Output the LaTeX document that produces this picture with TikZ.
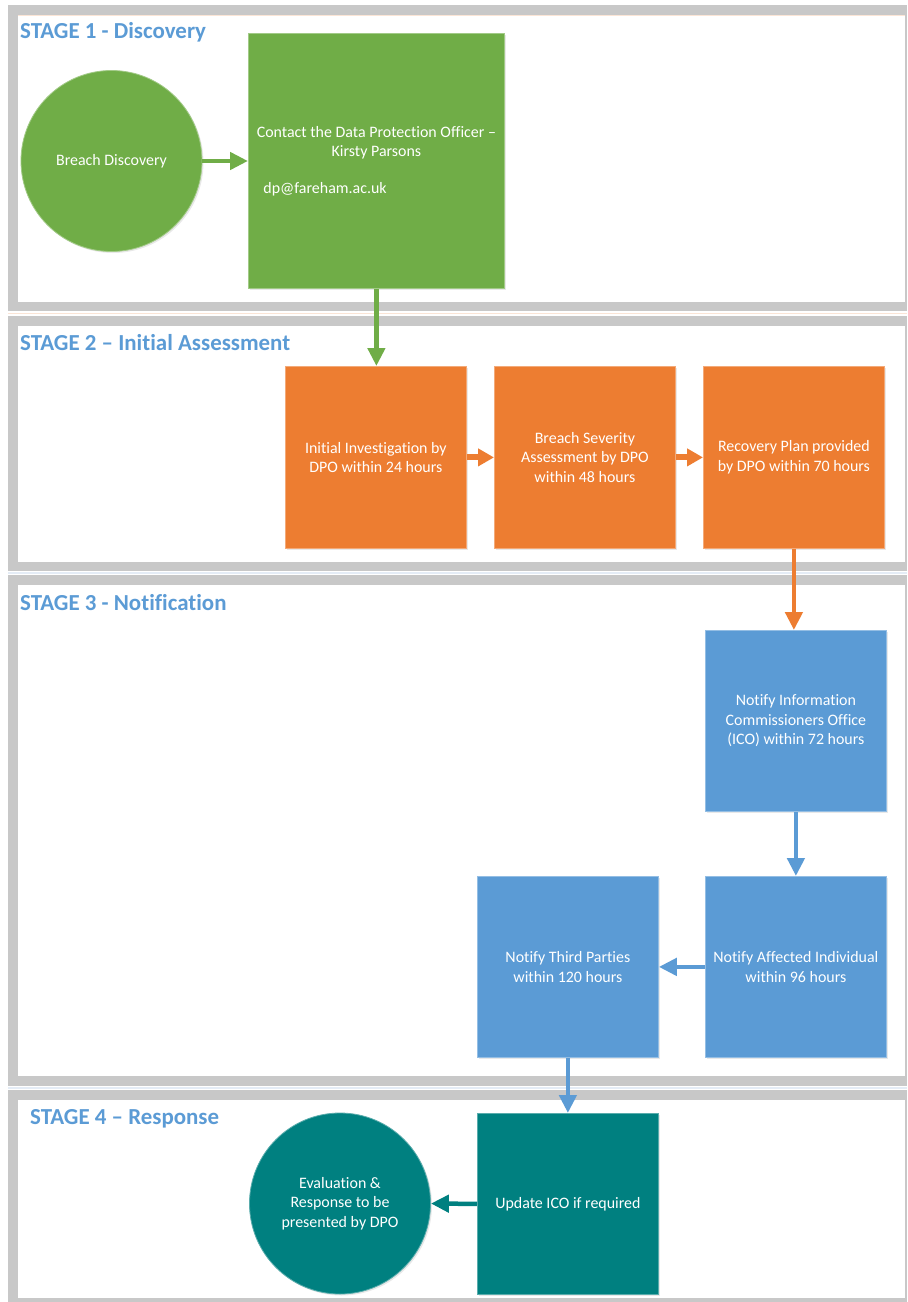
\documentclass[tikz,border=0pt]{standalone}
\usepackage{fontspec}
\setmainfont{Carlito}[Ligatures=NoCommon]
\usetikzlibrary{arrows.meta,shadows}
\definecolor{cGreen}{HTML}{70AD47}
\definecolor{cOrange}{HTML}{ED7D31}
\definecolor{cBlue}{HTML}{5B9BD5}
\definecolor{cTeal}{HTML}{008080}
\definecolor{cFrame}{HTML}{C8C8C8}
\definecolor{cTitle}{HTML}{5B9BD5}
\definecolor{cPeach}{HTML}{FBE5D6}
\definecolor{cIce}{HTML}{E4ECF6}
\begin{document}
\begin{tikzpicture}[x=1bp,y=-1bp,
  stagetitle/.style={anchor=base west, inner sep=0, text=cTitle,
    font=\bfseries\fontsize{23}{27}\selectfont},
  shapebase/.style={inner sep=0, text=white, align=center,
    font=\fontsize{16}{19.5}\selectfont, line width=0.8bp,
    drop shadow={opacity=0.18, shadow xshift=1.5bp, shadow yshift=-1.5bp}},
  procbox/.style={shapebase, rectangle, anchor=north west,
    minimum width=181bp, minimum height=181bp},
  roundstep/.style={shapebase, circle, minimum size=181bp},
  greenfill/.style={fill=cGreen, draw=cGreen!65!white},
  orangefill/.style={fill=cOrange, draw=cOrange!65!white},
  bluefill/.style={fill=cBlue, draw=cBlue!65!white},
  tealfill/.style={fill=cTeal, draw=cTeal!65!white},
  flow/.style={line width=4.5bp, -{Triangle[length=18bp,width=17bp]}},
  shortflow/.style={line width=6bp, -{Triangle[length=16bp,width=17bp]}}
]
\useasboundingbox (0,0) rectangle (907,1302);
\fill[white] (0,0) rectangle (907,1302);
% stage frames
\fill[cFrame] (8,5) rectangle (907,311);
\fill[white] (18,15) rectangle (905,302);
\fill[cFrame] (8,316) rectangle (907,571);
\fill[white] (18,326) rectangle (905,562);
\fill[cFrame] (8,575) rectangle (907,1086);
\fill[white] (18,585) rectangle (905,1076);
\fill[cFrame] (8,1090) rectangle (907,1302);
\fill[white] (18,1100) rectangle (905,1298);
% faint separator tints
\draw[cPeach, line width=1.5bp] (8,313.5) -- (907,313.5);
\draw[cPeach, line width=1.2bp] (18,15.8) -- (905,15.8);
\draw[cIce, line width=1.5bp] (8,573) -- (907,573);
\draw[cIce, line width=1.5bp] (8,1088) -- (907,1088);
% titles
\node[stagetitle] (t1) at (20,39) {STAGE 1 - Discovery};
\node[stagetitle] (t2) at (20,350) {STAGE 2 – Initial Assessment};
\node[stagetitle] (t3) at (20,610) {STAGE 3 - Notification};
\node[stagetitle] (t4) at (30,1124) {STAGE 4 – Response};
% stage 1
\node[roundstep, greenfill] (disc) at (111.5,161) {Breach Discovery};
\node[procbox, greenfill, minimum width=256bp, minimum height=255bp] (contact) at (248,33)
  {Contact the Data Protection Officer –\\Kirsty Parsons\\[17bp]\makebox[226bp][l]{dp@fareham.ac.uk}};
% stage 2
\node[procbox, orangefill, minimum height=182bp] (inv) at (285,366) {Initial Investigation by\\DPO within 24 hours};
\node[procbox, orangefill, minimum height=182bp] (sev) at (494,366) {Breach Severity\\Assessment by DPO\\within 48 hours};
\node[procbox, orangefill, minimum height=182bp] (rec) at (703,366) {Recovery Plan provided\\by DPO within 70 hours};
% stage 3
\node[procbox, bluefill] (ico) at (705,630) {Notify Information\\Commissioners Office\\(ICO) within 72 hours};
\node[procbox, bluefill] (aff) at (705,876) {Notify Affected Individual\\within 96 hours};
\node[procbox, bluefill] (third) at (477,876) {Notify Third Parties\\within 120 hours};
% stage 4
\node[procbox, tealfill] (update) at (477,1113) {Update ICO if required};
\node[roundstep, tealfill] (eval) at (340,1203.5) {Evaluation \&\\Response to be\\presented by DPO};
% connectors
\draw[flow, cGreen] (disc.east) -- (contact.west |- disc.east);
\draw[flow, cGreen] (contact.south) -- (contact.south |- inv.north);
\draw[shortflow, cOrange] (inv.east) -- (sev.west);
\draw[shortflow, cOrange] (sev.east) -- (rec.west);
\draw[flow, cOrange] (rec.south) -- (rec.south |- ico.north);
\draw[flow, cBlue] (ico.south) -- (aff.north);
\draw[flow, cBlue] (aff.west) -- (third.east);
\draw[flow, cBlue] (third.south) -- (update.north);
\draw[flow, cTeal] (update.west) -- (eval.east);
\end{tikzpicture}
\end{document}
